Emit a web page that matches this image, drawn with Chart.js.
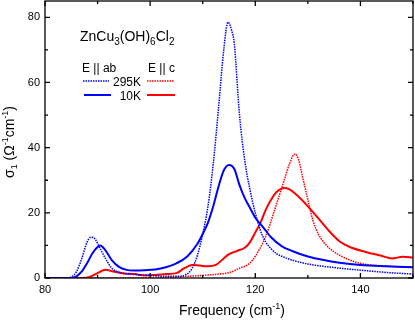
<!DOCTYPE html>
<html><head><meta charset="utf-8">
<script src="https://cdn.jsdelivr.net/npm/chart.js@4/dist/chart.umd.min.js"></script>
<style>html,body{margin:0;padding:0;background:#fff}</style>
</head><body>
<canvas id="c" width="415" height="320"></canvas>
<script>
// E || ab, 295 K (dotted blue)
const ab295Freq  = [80,84,85,86,87,88,88.7,89.5,90.5,91.5,92.7,94,96,98,100,103,105,107,108,109,110,111,112,113,114,114.8,115.5,116,117,118,119,120,121,122,123,124,125.3,127,130,135,140,145,150];
const ab295Sigma = [0,0,0.3,2,6,11,12.5,12,9,6,3,1.8,1.2,1,0.8,0.5,0.5,1.2,3,7,13.5,22,35,52,70,78.5,76,72,50,36,27,20,14.5,11,9,7.5,6.5,5.5,4.3,3.2,2.4,1.7,1.2];
// E || ab, 10 K (solid blue)
const ab10Freq  = [80,85,86,87,88,89,90,90.5,91.5,92.7,94,95.5,97,99,101,103,105,107,109,110,111,112,113,114,115,116,117,118,119,120,121,122,123,125,127,130,133,136,140,145,150];
const ab10Sigma = [0,0,0.5,2,4.5,7.5,9.5,10,8.5,5.5,3.5,2.5,2.3,2.4,2.6,3.3,4.5,6.5,10.5,13.5,17,22,28,33,34.7,33.5,28.5,24.5,21.5,18.5,16.5,14.5,12.5,9.8,8.3,6.6,5.5,4.7,4.0,3.6,3.3];
// E || c, 295 K (dotted red)
const c295Freq  = [80,100,104,107,110,113,115,117,118.5,119.5,120.5,121.5,122.5,123.5,124.5,125.5,126.5,127.5,128.2,129,130,131,132,133,134,136,138,140,143,146,150];
const c295Sigma = [0,0,0.2,0.5,0.8,1.2,1.6,3,4,5.5,8,11,15,20,25,30,35,38,36.5,31,24,17.5,13.5,11,9.3,7,5.5,4.5,3.8,3.5,3.3];
// E || c, 10 K (solid red)
const c10Freq  = [80,87,88.5,90,91.5,93,95,97,99,101,103,105,106.5,108,109.5,111,112.5,114,115,116.5,118,119,120,121,122,123,124,125.5,126.5,128,130,132,134,136,138,141,144,146,148,150];
const c10Sigma = [0,0,0.3,1.5,2.5,2.0,1.4,1.2,0.8,0.9,1.2,1.5,3.0,4.0,3.8,3.6,4.0,6,7.3,8.3,9.3,11,14,17,21,24,26.3,27.6,27.2,25.3,22,18.3,14.5,11.3,9.5,8.0,6.8,6.0,6.5,6.3];

const xTickValues = [80,100,120,140];
const yTickValues = [0,20,40,60,80];

const BLUE = '#0000ff', RED = '#ff0000';
const FONT = '"Liberation Sans", Arial, sans-serif';

function pts(xs, ys){ return xs.map((x,i)=>({x:x, y:ys[i]})); }

function drawRich(ctx, parts, x, y, align){
  let w = 0;
  parts.forEach(p=>{ ctx.font = p.s+'px '+FONT; w += ctx.measureText(p.t).width; });
  let cx = align==='center' ? x - w/2 : (align==='right' ? x - w : x);
  parts.forEach(p=>{
    ctx.font = p.s+'px '+FONT;
    ctx.fillText(p.t, cx, y + (p.dy||0));
    cx += ctx.measureText(p.t).width;
  });
}

const decor = {
  id:'decor',
  afterDraw(chart){
    const ctx = chart.ctx, a = chart.chartArea;
    const xs = chart.scales.x, ys = chart.scales.y;
    ctx.save();
    ctx.strokeStyle = '#000'; ctx.lineWidth = 1.3;
    ctx.strokeRect(a.left, a.top, a.right-a.left, a.bottom-a.top);
    ctx.beginPath();
    for(let v=80; v<=150; v+=10){
      const px = xs.getPixelForValue(v);
      const L = (v%20===0)?5:3;
      ctx.moveTo(px, a.bottom); ctx.lineTo(px, a.bottom-L);
      ctx.moveTo(px, a.top); ctx.lineTo(px, a.top+L);
    }
    for(let v=0; v<=80; v+=10){
      const py = ys.getPixelForValue(v);
      const L = (v%20===0)?5:3;
      ctx.moveTo(a.left, py); ctx.lineTo(a.left+L, py);
      ctx.moveTo(a.right, py); ctx.lineTo(a.right-L, py);
    }
    ctx.stroke();

    ctx.fillStyle = '#000';
    ctx.textBaseline = 'alphabetic';
    // compound name
    drawRich(ctx, [{t:'ZnCu',s:14},{t:'3',s:10,dy:4},{t:'(OH)',s:14},{t:'6',s:10,dy:4},{t:'Cl',s:14},{t:'2',s:10,dy:4}], 80, 41, 'left');
    // legend
    ctx.font = '12px '+FONT;
    ctx.textAlign = 'left';
    ctx.fillText('E || ab', 82, 72);
    ctx.fillText('E || c', 148, 72);
    ctx.textAlign = 'right';
    ctx.fillText('295K', 141, 86);
    ctx.fillText('10K', 141, 100);
    ctx.textAlign = 'left';
    function seg(x1,x2,y,col,dash,w){
      ctx.beginPath(); ctx.strokeStyle=col; ctx.lineWidth=w; ctx.setLineDash(dash);
      ctx.moveTo(x1,y); ctx.lineTo(x2,y); ctx.stroke(); ctx.setLineDash([]);
    }
    seg(83,109,81,BLUE,[1.5,1],1.5);
    seg(147,174,81,RED,[1.5,1],1.5);
    seg(84,111,95,BLUE,[],2);
    seg(147,175,95,RED,[],2);

    // axis titles
    ctx.fillStyle = '#000';
    drawRich(ctx, [{t:'Frequency (cm',s:14},{t:'-1',s:9,dy:-6},{t:')',s:14}], 232, 315, 'center');
    ctx.translate(14, 142);
    ctx.rotate(-Math.PI/2);
    drawRich(ctx, [{t:'σ',s:14},{t:'1',s:9,dy:3},{t:' (Ω',s:14},{t:'-1',s:9,dy:-6},{t:'cm',s:14},{t:'-1',s:9,dy:-6},{t:')',s:14}], 0, 0, 'center');
    ctx.restore();
  }
};

new Chart(document.getElementById('c'), {
  type:'line',
  data:{
    datasets:[
      {label:'E||ab 295K', data:pts(ab295Freq, ab295Sigma), borderColor:BLUE, borderWidth:1.5, borderDash:[1.5,1], pointRadius:0, cubicInterpolationMode:'monotone', fill:false},
      {label:'E||ab 10K', data:pts(ab10Freq, ab10Sigma), borderColor:BLUE, borderWidth:2, pointRadius:0, cubicInterpolationMode:'monotone', fill:false},
      {label:'E||c 295K', data:pts(c295Freq, c295Sigma), borderColor:RED, borderWidth:1.5, borderDash:[1.5,1], pointRadius:0, cubicInterpolationMode:'monotone', fill:false},
      {label:'E||c 10K', data:pts(c10Freq, c10Sigma), borderColor:RED, borderWidth:2, pointRadius:0, cubicInterpolationMode:'monotone', fill:false}
    ]
  },
  options:{
    responsive:false, animation:false,
    layout:{padding:{top:1,right:2,left:0,bottom:0}},
    plugins:{legend:{display:false}, tooltip:{enabled:false}},
    scales:{
      x:{type:'linear', min:80, max:150,
        afterBuildTicks(s){ s.ticks = xTickValues.map(v=>({value:v})); },
        afterFit(s){ s.height = 42; s.paddingLeft = 0; s.paddingRight = 0; },
        ticks:{color:'#000', font:{family:FONT, size:11}, padding:5, maxRotation:0},
        grid:{drawOnChartArea:false, drawTicks:false},
        border:{display:false}},
      y:{type:'linear', min:0, max:85,
        afterBuildTicks(s){ s.ticks = yTickValues.map(v=>({value:v})); },
        afterFit(s){ s.width = 45; s.paddingTop = 0; s.paddingBottom = 0; },
        ticks:{color:'#000', font:{family:FONT, size:11}, padding:5},
        grid:{drawOnChartArea:false, drawTicks:false},
        border:{display:false}}
    }
  },
  plugins:[decor]
});
</script>
</body></html>
